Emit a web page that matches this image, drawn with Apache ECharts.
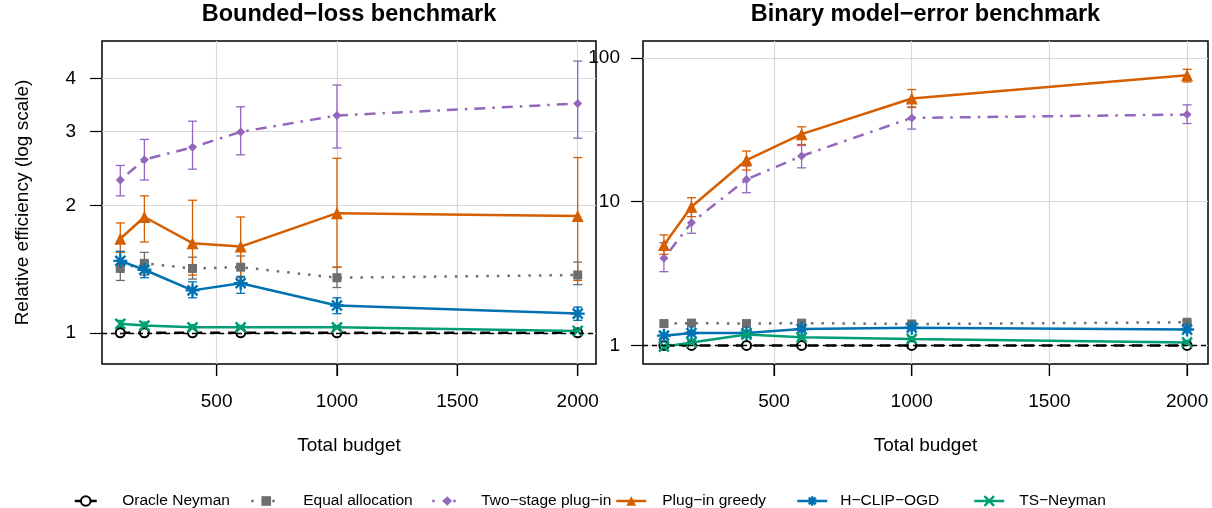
<!DOCTYPE html>
<html><head><meta charset="utf-8">
<script src="https://cdn.jsdelivr.net/npm/echarts@6/dist/echarts.min.js"></script>
<style>html,body{margin:0;padding:0;background:#fff}#c{width:1212px;height:508px}</style>
</head><body><div id="c"></div>
<script>
// ---------- data ----------
const budgets = [100, 200, 400, 600, 1000, 2000];
const xTicks = [500, 1000, 1500, 2000];
const yTicksBounded = [1, 2, 3, 4];
const yTicksBinary = [1, 10, 100];
const methodNames = ['Oracle Neyman', 'Equal allocation', 'Two\u2212stage plug\u2212in', 'Plug\u2212in greedy', 'H\u2212CLIP\u2212OGD', 'TS\u2212Neyman'];
const panelTitles = ['Bounded\u2212loss benchmark', 'Binary model\u2212error benchmark'];

// Bounded-loss benchmark
const oracleB    = [1, 1, 1, 1, 1, 1];
const equalB     = [1.42, 1.46, 1.42, 1.43, 1.35, 1.37];
const equalB_lo  = [1.33, 1.37, 1.34, 1.35, 1.28, 1.30];
const equalB_hi  = [1.55, 1.55, 1.51, 1.52, 1.43, 1.47];
const twoB       = [2.30, 2.57, 2.75, 2.99, 3.27, 3.49];
const twoB_lo    = [2.11, 2.30, 2.44, 2.64, 2.74, 2.89];
const twoB_hi    = [2.49, 2.87, 3.17, 3.43, 3.86, 4.40];
const greedyB    = [1.67, 1.88, 1.63, 1.60, 1.92, 1.89];
const greedyB_lo = [1.55, 1.64, 1.37, 1.33, 1.43, 1.33];
const greedyB_hi = [1.82, 2.11, 2.06, 1.88, 2.59, 2.60];
const hclipB     = [1.48, 1.41, 1.26, 1.31, 1.16, 1.11];
const hclipB_lo  = [1.41, 1.35, 1.21, 1.24, 1.11, 1.07];
const hclipB_hi  = [1.56, 1.47, 1.32, 1.36, 1.21, 1.15];
const tsB        = [1.05, 1.04, 1.03, 1.03, 1.03, 1.01];
const tsB_lo     = [1.03, 1.02, 1.01, 1.01, 1.01, 1.00];
const tsB_hi     = [1.07, 1.06, 1.045, 1.04, 1.04, 1.02];

// Binary model-error benchmark
const oracleM    = [1, 1, 1, 1, 1, 1];
const equalM     = [1.42, 1.43, 1.42, 1.43, 1.41, 1.45];
const equalM_lo  = [1.39, 1.40, 1.39, 1.40, 1.38, 1.42];
const equalM_hi  = [1.45, 1.46, 1.45, 1.46, 1.44, 1.48];
const twoM       = [4.04, 7.15, 14.3, 20.8, 38.3, 40.4];
const twoM_lo    = [3.26, 6.03, 11.55, 17.2, 32.0, 35.0];
const twoM_hi    = [5.19, 8.52, 17.7, 24.6, 45.7, 47.2];
const greedyM    = [5.0, 9.23, 19.5, 29.5, 52.2, 75.8];
const greedyM_lo = [4.3, 7.87, 16.6, 25.0, 45.2, 68.1];
const greedyM_hi = [5.87, 10.66, 22.5, 33.2, 60.3, 83.4];
const hclipM     = [1.17, 1.22, 1.22, 1.30, 1.33, 1.29];
const hclipM_lo  = [1.13, 1.19, 1.19, 1.27, 1.29, 1.26];
const hclipM_hi  = [1.21, 1.25, 1.25, 1.33, 1.37, 1.32];
const tsM        = [0.98, 1.05, 1.19, 1.14, 1.11, 1.05];
const tsM_lo     = [0.95, 1.02, 1.15, 1.11, 1.07, 1.02];
const tsM_hi     = [1.01, 1.08, 1.23, 1.17, 1.15, 1.08];

// ---------- styles ----------
const FONT = "'Liberation Sans', Arial, Helvetica, sans-serif";
const STAR = 'path://M0,10 L20,10 M10,0 L10,20 M2.9,2.9 L17.1,17.1 M2.9,17.1 L17.1,2.9';
const CROSS = 'path://M0,0 L20,20 M0,20 L20,0';
const styles = [
  {color: '#000000', symbol: 'emptyCircle', size: 9, dash: [10, 8], legendDash: 'solid', width: 2.5, bw: 2},
  {color: '#6E6E6E', symbol: 'rect', size: 9, dash: [2.5, 8], legendDash: [2.5, 8], width: 2.5, bw: 0},
  {color: '#9467BD', symbol: 'diamond', size: 9, dash: [2.5, 7, 11, 7], legendDash: [2.5, 8], width: 2.5, bw: 0},
  {color: '#D55E00', symbol: 'triangle', size: 12, dash: 'solid', legendDash: 'solid', width: 2.5, bw: 0},
  {color: '#0072B2', symbol: STAR, size: 14, dash: 'solid', legendDash: 'solid', width: 2.5, bw: 2.4},
  {color: '#009E73', symbol: CROSS, size: 10, dash: 'solid', legendDash: 'solid', width: 2.5, bw: 2.4}
];

const yRange = [[-0.074, 0.691], [-0.129, 2.118]];

const panels = [
  {vals: [oracleB, equalB, twoB, greedyB, hclipB, tsB],
   lo: [null, equalB_lo, twoB_lo, greedyB_lo, hclipB_lo, tsB_lo],
   hi: [null, equalB_hi, twoB_hi, greedyB_hi, hclipB_hi, tsB_hi]},
  {vals: [oracleM, equalM, twoM, greedyM, hclipM, tsM],
   lo: [null, equalM_lo, twoM_lo, greedyM_lo, hclipM_lo, tsM_lo],
   hi: [null, equalM_hi, twoM_hi, greedyM_hi, hclipM_hi, tsM_hi]}
];

const L = v => Math.log10(v);

const series = [];
panels.forEach((p, pi) => {
  // x-axis tick marks below the frame, placed through the axis scale
  series.push({
    name: 'x ticks ' + pi, type: 'custom', xAxisIndex: pi, yAxisIndex: pi,
    silent: true, animation: false, z: 10, clip: false,
    encode: {x: 0, y: 1},
    data: xTicks.map(v => [v, yRange[pi][0]]),
    renderItem: (params, api) => {
      const c = api.coord([api.value(0), api.value(1)]);
      return {type: 'line', shape: {x1: c[0], y1: c[1], x2: c[0], y2: c[1] + 12},
              style: {stroke: '#000', lineWidth: 1.2}};
    }
  });
  // error bars (below lines)
  methodNames.forEach((name, mi) => {
    if (!p.lo[mi]) return;
    const col = styles[mi].color;
    series.push({
      name: name + ' CI ' + pi, type: 'custom', xAxisIndex: pi, yAxisIndex: pi,
      silent: true, animation: false, z: 2, clip: false,
      encode: {x: 0, y: [1, 2]},
      data: budgets.map((b, i) => [b, L(p.lo[mi][i]), L(p.hi[mi][i])]),
      renderItem: (params, api) => {
        const x = api.value(0);
        const a = api.coord([x, api.value(1)]);
        const c = api.coord([x, api.value(2)]);
        const w = 4.5, st = {stroke: col, lineWidth: 1.3};
        return {type: 'group', children: [
          {type: 'line', shape: {x1: a[0], y1: a[1], x2: c[0], y2: c[1]}, style: st},
          {type: 'line', shape: {x1: a[0] - w, y1: a[1], x2: a[0] + w, y2: a[1]}, style: st},
          {type: 'line', shape: {x1: c[0] - w, y1: c[1], x2: c[0] + w, y2: c[1]}, style: st}
        ]};
      }
    });
  });
  methodNames.forEach((name, mi) => {
    const s = styles[mi];
    const ser = {
      name: name, type: 'line', xAxisIndex: pi, yAxisIndex: pi, z: 3 + mi * 0.1,
      animation: false, silent: true,
      data: budgets.map((b, i) => [b, L(p.vals[mi][i])]),
      symbol: s.symbol, symbolSize: s.size, showSymbol: true,
      lineStyle: {color: s.color, width: s.width, type: s.dash},
      itemStyle: {color: s.color, borderColor: s.color, borderWidth: s.bw}
    };
    if (mi === 0) {
      ser.markLine = {
        silent: true, symbol: 'none', label: {show: false}, animation: false,
        lineStyle: {color: '#000', width: 1.3, type: [5, 4]},
        data: [{yAxis: 0}]
      };
    }
    series.push(ser);
  });
});

const labelStyle = {color: '#000', fontSize: 19, fontFamily: FONT};
const tickStyle = {show: true, length: 12, inside: false, lineStyle: {color: '#000', width: 1.2}};
function xAxis(gi) {
  return {
    type: 'value', gridIndex: gi, min: 24, max: 2076,
    name: 'Total budget', nameLocation: 'middle', nameGap: 72,
    nameTextStyle: labelStyle,
    axisLine: {show: false, onZero: false},
    axisTick: Object.assign({customValues: xTicks}, tickStyle),
    axisLabel: Object.assign({margin: 28, customValues: xTicks, formatter: v => String(v)}, labelStyle),
    splitLine: {show: true, lineStyle: {color: '#D9D9D9', width: 1.2}}
  };
}
function yAxis(gi, ticks, margin, name) {
  const tv = ticks.map(L);
  return {
    type: 'value', gridIndex: gi, min: yRange[gi][0], max: yRange[gi][1],
    name: name, nameLocation: 'middle', nameGap: 70, nameTextStyle: labelStyle,
    axisLine: {show: false, onZero: false},
    axisTick: Object.assign({customValues: tv}, tickStyle),
    axisLabel: Object.assign({margin: margin, customValues: tv,
      formatter: v => String(Math.round(Math.pow(10, v)))}, labelStyle),
    splitLine: {show: true, lineStyle: {color: '#D9D9D9', width: 1.2}}
  };
}

const legendIcon = [[84.5, 22, 20.5], [265, 30, 17], [446, 30, 14], [630, 30, 11], [811, 30, 8], [988, 30, 10]];
const legends = methodNames.map((name, mi) => ({
  data: [name], left: legendIcon[mi][0] - legendIcon[mi][1] / 2, top: 493,
  padding: 0, itemWidth: legendIcon[mi][1], itemHeight: 12, selectedMode: false,
  textStyle: {color: '#000', fontSize: 15.5, fontFamily: FONT, padding: [0, 0, 0, legendIcon[mi][2]]},
  lineStyle: {width: 2.5, type: styles[mi].legendDash},
  itemStyle: {borderWidth: styles[mi].bw}
}));

const chart = echarts.init(document.getElementById('c'), null, {renderer: 'canvas'});
chart.setOption({
  backgroundColor: '#fff',
  animation: false,
  textStyle: {fontFamily: FONT},
  title: [
    {text: panelTitles[0], left: 349, top: 15, padding: 0, textAlign: 'center', textVerticalAlign: 'middle',
     textStyle: {fontSize: 23.5, fontWeight: 'bold', color: '#000', fontFamily: FONT}},
    {text: panelTitles[1], left: 925.5, top: 15, padding: 0, textAlign: 'center', textVerticalAlign: 'middle',
     textStyle: {fontSize: 23.5, fontWeight: 'bold', color: '#000', fontFamily: FONT}}
  ],
  grid: [
    {left: 102, top: 41, width: 494, height: 323, show: true, borderColor: '#000', borderWidth: 1.5, outerBoundsMode: 'none'},
    {left: 643, top: 41, width: 565, height: 323, show: true, borderColor: '#000', borderWidth: 1.5, outerBoundsMode: 'none'}
  ],
  xAxis: [xAxis(0), xAxis(1)],
  yAxis: [
    yAxis(0, yTicksBounded, 26, 'Relative efficiency (log scale)'),
    yAxis(1, yTicksBinary, 23, '')
  ],
  legend: legends,
  series: series
});
</script>
</body></html>
